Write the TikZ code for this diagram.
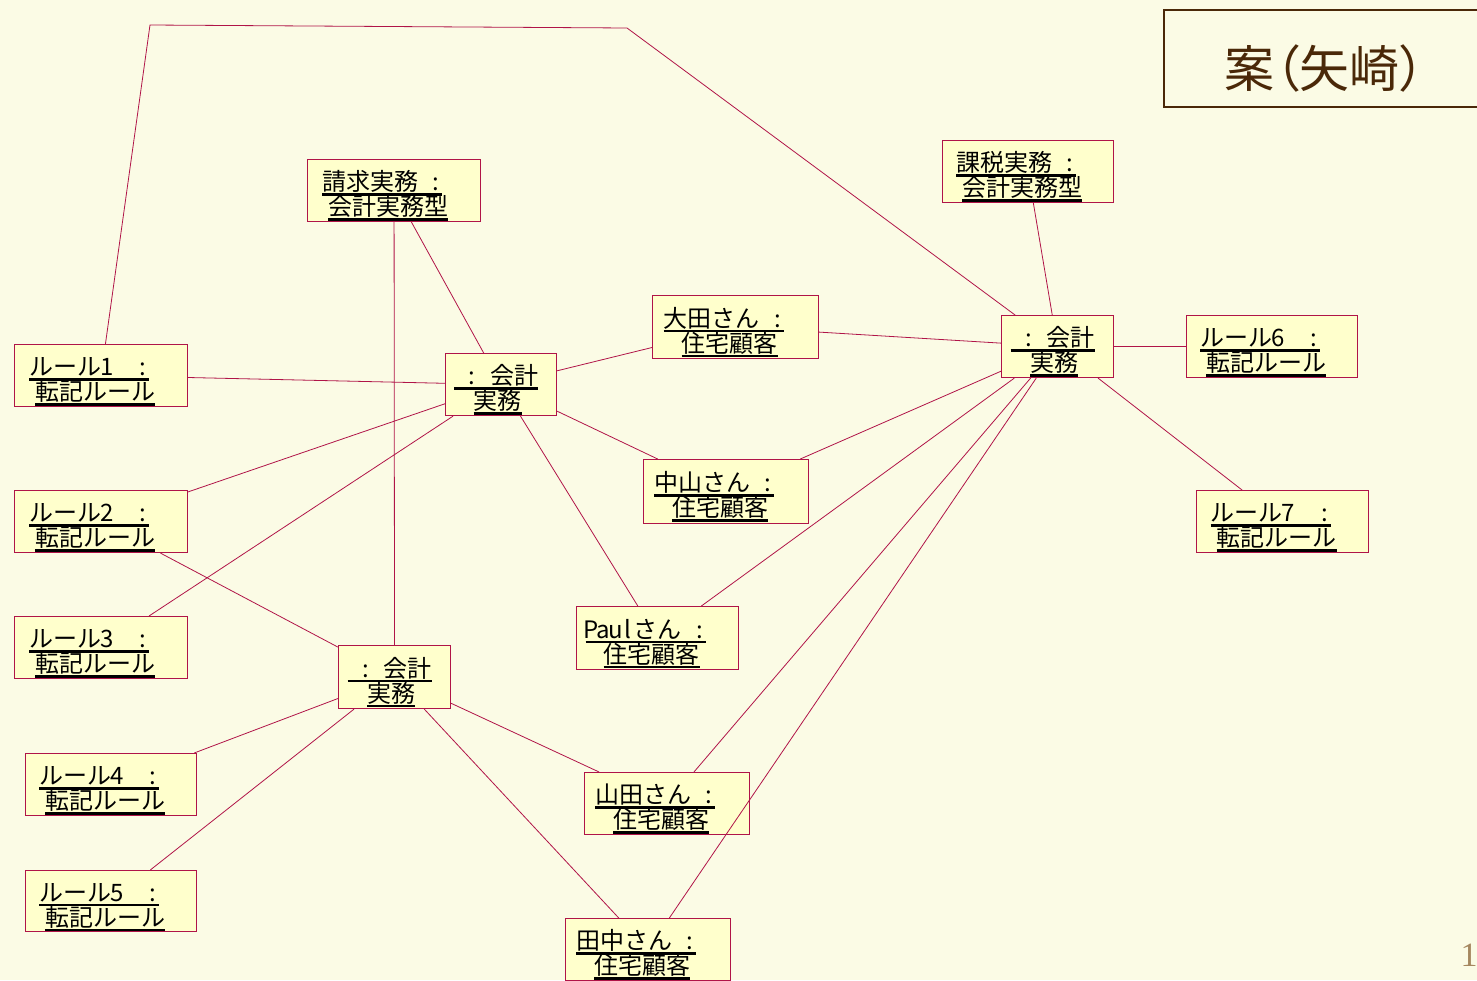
\documentclass[tikz,border=0pt]{standalone}
\usepackage{fontspec}
\setmainfont{Liberation Serif}
\newfontfamily\jp{Noto Sans CJK JP}
\newfontfamily\jpp[RawFeature=+palt]{Noto Sans CJK JP}
\definecolor{pagebg}{RGB}{251,251,229}
\definecolor{boxfill}{RGB}{255,255,204}
\definecolor{linkcol}{RGB}{176,20,72}
\definecolor{titlecol}{RGB}{74,40,8}
\definecolor{numcol}{RGB}{165,135,95}

% half-width cell (monospaced look of the object labels)
\newcommand\hc[1]{\makebox[12pt]{#1}}
% underline drawn as a rule just under the glyphs
\newcommand\ulbox[1]{\mbox{\sbox0{#1}\rlap{\raisebox{-5pt}{\rule{\wd0}{2.2pt}}}\usebox0}}
% two-line object label: "name :" over "class" (the strut lowers the block a little)
\newcommand\objlab[2]{\rule{0pt}{30pt}\ulbox{#1}\hspace*{24pt}\\\ulbox{#2}\hspace*{12pt}}
\newcommand\acclab[2]{\rule{0pt}{30pt}\ulbox{#1}\hspace*{10pt}\\\ulbox{#2}\hspace*{7pt}}
\newcommand\labfont{\jp\fontsize{24}{25}\selectfont}

\tikzset{
  obj/.style={draw=linkcol, line width=1.1pt, fill=boxfill, inner sep=0pt,
    anchor=north west, align=center, text=black, font=\labfont},
  link/.style={draw=linkcol, line width=0.8pt},
}

% object box from its top-left corner and size (pixels)
\newcommand\objbox[6]{\node[obj, minimum width=#4pt, minimum height=#5pt] (#1) at (#2,#3) {#6};}

\begin{document}
\lineskiplimit=-30pt
\begin{tikzpicture}[x=1pt,y=-1pt]
\fill[pagebg] (0,0) rectangle (1477,980);
\useasboundingbox (0,0) rectangle (1477,980);

% title
\node[draw=titlecol, line width=1.6pt, anchor=north west, minimum width=330pt, minimum height=97pt,
      inner sep=0pt, text=titlecol, font=\jpp\fontsize{50}{52}\selectfont] (title) at (1163,9)
  {\hspace*{-8pt}\rule{0pt}{64pt}案（矢崎）};

% page number
\node[text=numcol, font=\fontsize{34}{36}\selectfont, inner sep=0pt] (pageno) at (1469,955) {1};

% objects
\objbox{seikyu}{307}{159}{173}{62}{\objlab{請求実務\hc{}\hc{:}}{会計実務型}}
\objbox{kazei}{942}{140}{171}{62}{\objlab{課税実務\hc{}\hc{:}}{会計実務型}}
\objbox{ota}{652}{295}{166}{63}{\objlab{大田さん\hc{}\hc{:}}{住宅顧客}}
\objbox{kaikeiA}{445}{353}{111}{62}{\acclab{\hc{}\hc{:}\hc{}会計}{実務}}
\objbox{kaikeiB}{1001}{315}{112}{62}{\acclab{\hc{}\hc{:}\hc{}会計}{実務}}
\objbox{kaikeiC}{338}{645}{112}{63}{\acclab{\hc{}\hc{:}\hc{}会計}{実務}}
\objbox{rule1}{14}{344}{173}{62}{\objlab{ルール\hc{1}\hc{}\hc{}\hc{:}}{転記ルール}}
\objbox{rule2}{14}{490}{173}{62}{\objlab{ルール\hc{2}\hc{}\hc{}\hc{:}}{転記ルール}}
\objbox{rule3}{14}{616}{173}{62}{\objlab{ルール\hc{3}\hc{}\hc{}\hc{:}}{転記ルール}}
\objbox{rule4}{25}{753}{171}{62}{\objlab{ルール\hc{4}\hc{}\hc{}\hc{:}}{転記ルール}}
\objbox{rule5}{25}{870}{171}{61}{\objlab{ルール\hc{5}\hc{}\hc{}\hc{:}}{転記ルール}}
\objbox{rule6}{1186}{315}{171}{62}{\objlab{ルール\hc{6}\hc{}\hc{}\hc{:}}{転記ルール}}
\objbox{rule7}{1196}{490}{172}{62}{\objlab{ルール\hc{7}\hc{}\hc{}\hc{:}}{転記ルール}}
\objbox{nakayama}{643}{459}{165}{64}{\objlab{中山さん\hc{}\hc{:}}{住宅顧客}}
\objbox{paul}{576}{606}{162}{63}{\objlab{\hc{P}\hc{a}\hc{u}\hc{l}さん\hc{}\hc{:}}{住宅顧客}}
\objbox{yamada}{584}{772}{165}{62}{\objlab{山田さん\hc{}\hc{:}}{住宅顧客}}
\objbox{tanaka}{565}{918}{165}{62}{\objlab{田中さん\hc{}\hc{:}}{住宅顧客}}

% bend points of the long link across the top
\coordinate (bendA) at (150,25);
\coordinate (bendB) at (627,28);

% links
\draw[link] (rule1) -- (bendA) -- (bendB) -- (kaikeiB);
\draw[link] (seikyu) -- (kaikeiC);
\draw[link] (seikyu) -- (kaikeiA);
\draw[link] (kazei) -- (kaikeiB);
\draw[link] (rule1) -- (kaikeiA);
\draw[link] (kaikeiA) -- (ota);
\draw[link] (ota) -- (kaikeiB);
\draw[link] (kaikeiA) -- (nakayama);
\draw[link] (kaikeiA) -- (rule2);
\draw[link] (kaikeiA) -- (rule3);
\draw[link] (kaikeiA) -- (paul);
\draw[link] (rule2) -- (kaikeiC);
\draw[link] (kaikeiC) -- (rule4);
\draw[link] (kaikeiC) -- (rule5);
\draw[link] (kaikeiC) -- (yamada);
\draw[link] (kaikeiC) -- (tanaka);
\draw[link] (kaikeiB) -- (rule6);
\draw[link] (kaikeiB) -- (rule7);
\draw[link] (kaikeiB) -- (nakayama);
\draw[link] (kaikeiB) -- (paul);
\draw[link] (kaikeiB) -- (yamada);
\draw[link] (kaikeiB) -- (tanaka);
\end{tikzpicture}
\end{document}
